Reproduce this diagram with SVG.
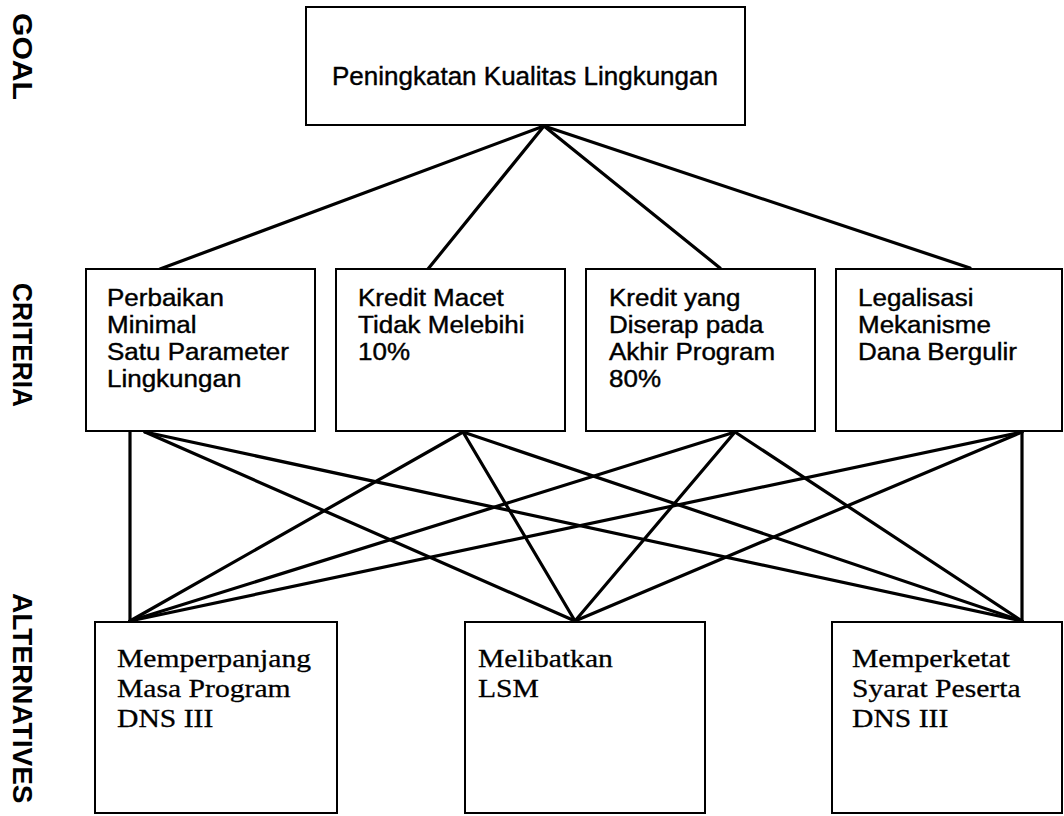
<svg xmlns="http://www.w3.org/2000/svg" width="1064" height="816" viewBox="0 0 1064 816">
<style>
.box{fill:#fff;stroke:#000;stroke-width:2}
.lbl{font-family:"Liberation Sans",Arial,sans-serif;font-weight:bold;font-size:28px;fill:#000}
.goal{font-family:"Liberation Sans",Arial,sans-serif;font-size:26px;fill:#000;stroke:#000;stroke-width:0.4}
.crit{font-family:"Liberation Sans",Arial,sans-serif;font-size:23px;fill:#000;stroke:#000;stroke-width:0.4}
.alt{font-family:"Liberation Serif","Times New Roman",serif;font-size:26px;fill:#000;stroke:#000;stroke-width:0.3}
.edge{stroke:#000;stroke-width:3.2;fill:none;stroke-linecap:round}
</style>
<rect width="1064" height="816" fill="#fff"/>
<g id="labels">
<text class="lbl" transform="translate(13,13) rotate(90)" textLength="87" lengthAdjust="spacingAndGlyphs">GOAL</text>
<text class="lbl" transform="translate(13,283) rotate(90)" textLength="124" lengthAdjust="spacingAndGlyphs">CRITERIA</text>
<text class="lbl" transform="translate(13,593) rotate(90)">ALTERNATIVES</text>
</g>
<g id="connectors">
<line class="edge" x1="544" y1="126" x2="160" y2="269"/>
<line class="edge" x1="544" y1="126" x2="428" y2="269"/>
<line class="edge" x1="544" y1="126" x2="720" y2="268"/>
<line class="edge" x1="544" y1="126" x2="970" y2="268"/>
<line class="edge" x1="130" y1="432" x2="130" y2="621"/>
<line class="edge" x1="145" y1="432" x2="575" y2="621"/>
<line class="edge" x1="145" y1="432" x2="1022" y2="621"/>
<line class="edge" x1="463" y1="432" x2="130" y2="621"/>
<line class="edge" x1="463" y1="432" x2="575" y2="621"/>
<line class="edge" x1="463" y1="432" x2="1022" y2="621"/>
<line class="edge" x1="735" y1="432" x2="130" y2="621"/>
<line class="edge" x1="735" y1="432" x2="575" y2="621"/>
<line class="edge" x1="735" y1="432" x2="1022" y2="621"/>
<line class="edge" x1="1022" y1="432" x2="130" y2="621"/>
<line class="edge" x1="1022" y1="432" x2="575" y2="621"/>
<line class="edge" x1="1022" y1="432" x2="1022" y2="621"/>
</g>
<g id="goal">
<rect class="box" x="306" y="7" width="439" height="118"/>
<text class="goal" x="332" y="85">Peningkatan Kualitas Lingkungan</text>
</g>
<g id="criteria1">
<rect class="box" x="86" y="269" width="229" height="162"/>
<text class="crit" transform="translate(107,306) scale(1.13,1)">Perbaikan</text>
<text class="crit" transform="translate(107,333) scale(1.13,1)">Minimal</text>
<text class="crit" transform="translate(107,360) scale(1.13,1)">Satu Parameter</text>
<text class="crit" transform="translate(107,387) scale(1.13,1)">Lingkungan</text>
</g>
<g id="criteria2">
<rect class="box" x="336" y="269" width="229" height="162"/>
<text class="crit" transform="translate(358,306) scale(1.13,1)">Kredit Macet</text>
<text class="crit" transform="translate(358,333) scale(1.13,1)">Tidak Melebihi</text>
<text class="crit" transform="translate(358,360) scale(1.13,1)">10%</text>
</g>
<g id="criteria3">
<rect class="box" x="586" y="269" width="229" height="162"/>
<text class="crit" transform="translate(609,306) scale(1.13,1)">Kredit yang</text>
<text class="crit" transform="translate(609,333) scale(1.13,1)">Diserap pada</text>
<text class="crit" transform="translate(609,360) scale(1.13,1)">Akhir Program</text>
<text class="crit" transform="translate(609,387) scale(1.13,1)">80%</text>
</g>
<g id="criteria4">
<rect class="box" x="836" y="269" width="226" height="162"/>
<text class="crit" transform="translate(858,306) scale(1.13,1)">Legalisasi</text>
<text class="crit" transform="translate(858,333) scale(1.13,1)">Mekanisme</text>
<text class="crit" transform="translate(858,360) scale(1.13,1)">Dana Bergulir</text>
</g>
<g id="alternative1">
<rect class="box" x="95" y="622" width="242" height="191"/>
<text class="alt" transform="translate(117,667) scale(1.14,1)">Memperpanjang</text>
<text class="alt" transform="translate(117,697) scale(1.14,1)">Masa Program</text>
<text class="alt" transform="translate(117,727) scale(1.14,1)">DNS III</text>
</g>
<g id="alternative2">
<rect class="box" x="465" y="622" width="240" height="191"/>
<text class="alt" transform="translate(478,667) scale(1.14,1)">Melibatkan</text>
<text class="alt" transform="translate(478,697) scale(1.14,1)">LSM</text>
</g>
<g id="alternative3">
<rect class="box" x="832" y="622" width="230" height="191"/>
<text class="alt" transform="translate(852,667) scale(1.14,1)">Memperketat</text>
<text class="alt" transform="translate(852,697) scale(1.14,1)">Syarat Peserta</text>
<text class="alt" transform="translate(852,727) scale(1.14,1)">DNS III</text>
</g>
</svg>
